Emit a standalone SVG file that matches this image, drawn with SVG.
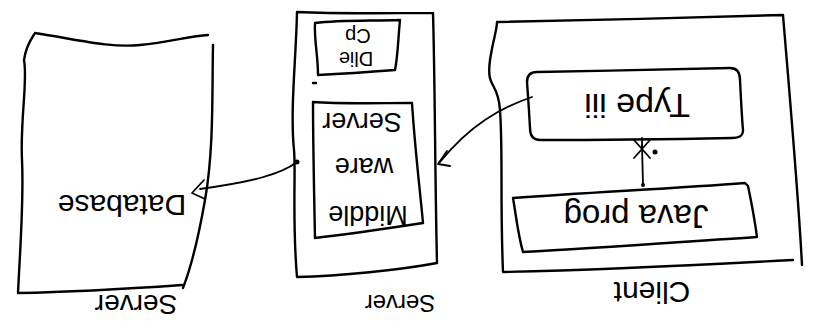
<svg xmlns="http://www.w3.org/2000/svg" width="820" height="328" viewBox="0 0 820 328">
<defs>
<style>
.s{fill:none;stroke:#000;stroke-width:2.4;stroke-linecap:round;stroke-linejoin:round}
.c{fill:none;stroke:#000;stroke-width:1.8;stroke-linecap:round;stroke-linejoin:round}
.t{font-family:"Liberation Sans",Arial,sans-serif;fill:#000;text-anchor:middle;dominant-baseline:central}
</style>
</defs>
<rect width="820" height="328" fill="#fff"/>
<g id="database">
<path class="s" d="M35,33 C80,40 110,48 140,45 C170,42 190,36 208,35 M213,45 C212,90 214,150 205,200 C198,240 190,270 183,288 M182,285 C140,288 80,292 18,293 C20,250 24,200 22,160 C20,120 28,80 24,60 C26,45 32,38 35,33"/>
<text class="t" transform="translate(122,205) rotate(180)" font-size="30">Database</text>
<text class="t" transform="translate(136,304) rotate(180)" font-size="28">Server</text>
</g>
<g id="middleware">
<path class="s" d="M297,12 C340,14 390,13 433,13 M433,13 C435,80 435,180 437,263 M437,263 C400,270 340,276 297,277 C292,220 296,170 294,150 C290,110 296,60 297,12"/>
<path class="s" d="M315,23 C340,20 370,21 400,20 C398,40 398,55 395,70 C370,72 340,74 318,75 C318,55 314,40 315,23 Z"/>
<path class="s" d="M313,83 L316,83 M313,102 C340,104 380,103 412,103 C415,150 420,190 423,223 C390,228 350,234 315,238 C314,190 313,140 313,102"/>
<text class="t" transform="translate(358,36) rotate(180)" font-size="20">Cp</text>
<text class="t" transform="translate(356,59) rotate(180)" font-size="20">Dlie</text>
<text class="t" transform="translate(362,122) rotate(180)" font-size="27">Server</text>
<text class="t" transform="translate(364,167) rotate(180)" font-size="27">ware</text>
<text class="t" transform="translate(368,215) rotate(180)" font-size="27">Middle</text>
<text class="t" transform="translate(400,303) rotate(180)" font-size="24">Server</text>
</g>
<g id="client">
<path class="s" d="M497,22 C590,20 690,18 783,15 C790,100 798,190 802,265 M793,260 C700,265 600,270 503,272 C500,200 503,150 500,110 C498,80 486,90 490,60 C493,40 497,30 497,22"/>
<text class="t" transform="translate(652,292) rotate(180)" font-size="30">Client</text>
</g>
<g id="type3">
<path class="s" d="M537,72 C600,71 680,69 730,68 C738,68 740,74 740,80 C741,100 742,120 743,130 C743,137 738,138 732,138 C680,139 600,140 540,140 C532,140 530,135 530,128 C529,110 528,95 527,82 C527,75 530,72 537,72 Z"/>
<text class="t" transform="translate(637,106) rotate(180)" font-size="34">Type iii</text>
</g>
<g id="javaprog">
<path class="s" d="M513,198 C600,192 680,188 745,183 L748,186 C752,205 755,222 757,237 C680,242 600,248 523,252 C518,235 516,215 513,198 Z"/>
<text class="t" transform="translate(636,216) rotate(180)" font-size="33">Java prog</text>
</g>
<g id="connectors">
<path class="c" d="M297,162 C280,175 250,182 200,189"/>
<circle cx="297" cy="162" r="2.5"/>
<path class="c" d="M204,180 L192,193 L205,199"/>
<path class="c" d="M532,97 C500,108 470,125 440,162"/>
<path class="c" d="M447,151 L438,164 L450,166"/>
<path class="c" d="M643,185 L642,145"/>
<circle cx="643" cy="185" r="2"/>
<path class="c" d="M634,140 L650,158 M650,140 L634,158 M642,138 L642,147"/>
<circle cx="655" cy="152" r="2.5"/>
</g>
</svg>
